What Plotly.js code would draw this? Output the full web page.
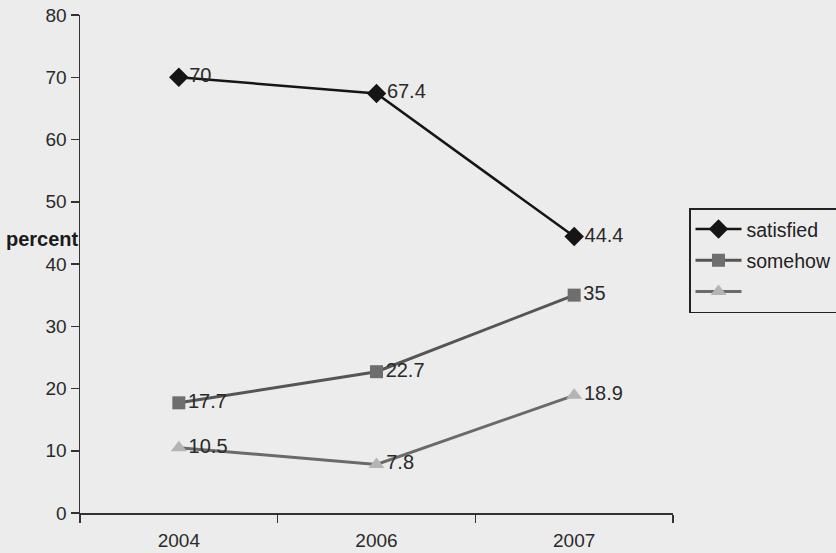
<!DOCTYPE html>
<html>
<head>
<meta charset="utf-8">
<script src="https://cdn.plot.ly/plotly-3.0.1.min.js"></script>
<style>
  html, body { margin: 0; padding: 0; background: #ececec; }
  #chart { width: 836px; height: 553px; }
</style>
</head>
<body>
<div id="chart"></div>
<script>
const years = ['2004', '2006', '2007'];
const seriesNames = ['satisfied', 'somehow', ' '];
const satisfied = [70, 67.4, 44.4];
const somehow = [17.7, 22.7, 35];
const third = [10.5, 7.8, 18.9];
const yTicks = [0, 10, 20, 30, 40, 50, 60, 70, 80];

const font = 'Liberation Sans, Arial, sans-serif';

function fmt(arr) { return arr.map(v => String(v)); }

const traces = [
  {
    x: years, y: satisfied, name: seriesNames[0], legendgroup: 'g1', type: 'scatter', mode: 'lines+markers+text',
    text: fmt(satisfied), textposition: 'middle right',
    textfont: {family: font, size: 20, color: '#2a2a2a'},
    line: {color: '#151515', width: 2.5},
    marker: {symbol: 'diamond', size: 15, color: '#151515'},
    cliponaxis: false
  },
  {
    x: years, y: somehow, name: seriesNames[1], legendgroup: 'g2', type: 'scatter', mode: 'lines+markers+text',
    text: fmt(somehow), textposition: 'middle right',
    textfont: {family: font, size: 20, color: '#2a2a2a'},
    line: {color: '#555555', width: 3},
    marker: {symbol: 'square', size: 13, color: '#6e6e6e'},
    cliponaxis: false
  },
  {
    x: years, y: third, name: seriesNames[2], legendgroup: 'g3', type: 'scatter', mode: 'lines+markers+text',
    text: fmt(third), textposition: 'middle right',
    textfont: {family: font, size: 20, color: '#2a2a2a'},
    line: {color: '#6a6a6a', width: 3},
    marker: {symbol: 'triangle-up', size: 14, color: '#b4b4b4'},
    cliponaxis: false
  }
];

const layout = {
  width: 836, height: 553,
  margin: {l: 80, r: 163, t: 15, b: 40, autoexpand: false},
  paper_bgcolor: '#ececec',
  plot_bgcolor: '#ececec',
  font: {family: font, size: 19, color: '#2a2a2a'},
  showlegend: true,
  legend: {
    x: 1.027, y: 0.612, xanchor: 'left', yanchor: 'top',
    bgcolor: '#ececec', bordercolor: '#222', borderwidth: 1.5,
    font: {family: font, size: 19.5, color: '#222'},
    itemwidth: 46, traceorder: 'grouped', tracegroupgap: 3
  },
  xaxis: {
    type: 'category', tickson: 'boundaries', range: [-0.5, 2.5], autorange: false,
    showline: true, linecolor: '#333', linewidth: 1.5,
    ticks: 'outside', ticklen: 8, tickcolor: '#333', tickwidth: 1.5,
    showgrid: false, zeroline: false,
    tickfont: {family: font, size: 19, color: '#2a2a2a'},
    ticklabelstandoff: 10
  },
  yaxis: {
    range: [0, 80], autorange: false, tickvals: yTicks, ticktext: yTicks.map(String),
    showline: true, linecolor: '#333', linewidth: 1.5,
    ticks: 'outside', ticklen: 8, tickcolor: '#333', tickwidth: 1.5,
    showgrid: false, zeroline: false,
    tickfont: {family: font, size: 19, color: '#2a2a2a'}
  },
  annotations: [{
    text: '<b>percent</b>', xref: 'paper', yref: 'paper', x: 0, y: 0.55,
    xanchor: 'right', yanchor: 'middle', showarrow: false, xshift: 1,
    font: {family: font, size: 20, color: '#1a1a1a'}
  }]
};

Plotly.newPlot('chart', traces, layout, {staticPlot: true, displayModeBar: false});
</script>
</body>
</html>
